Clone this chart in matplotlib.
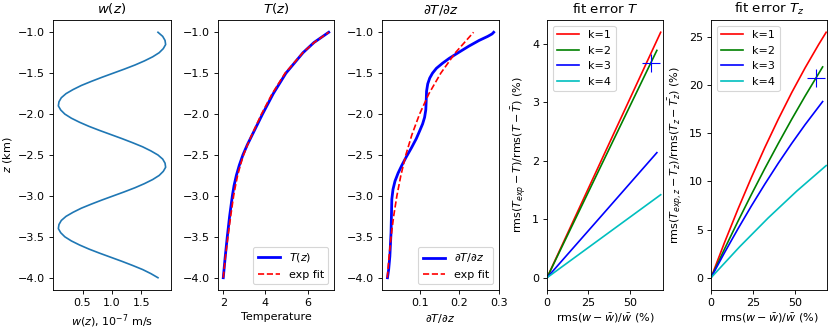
import numpy as np
import matplotlib
matplotlib.use("Agg")
import matplotlib.pyplot as plt

# depth grid for w(z), km
z_w = np.linspace(-1.0, -4.0, 61)
w_z = [1.78, 1.86, 1.90, 1.91, 1.87, 1.80, 1.69, 1.55, 1.39, 1.21,
       1.02, 0.83, 0.65, 0.48, 0.34, 0.22, 0.14, 0.10, 0.09, 0.13,
       0.20, 0.31, 0.45, 0.61, 0.79, 0.98, 1.17, 1.35, 1.52, 1.66,
       1.78, 1.86, 1.90, 1.91, 1.87, 1.80, 1.69, 1.55, 1.39, 1.21,
       1.02, 0.83, 0.65, 0.48, 0.34, 0.22, 0.14, 0.10, 0.09, 0.13,
       0.20, 0.31, 0.45, 0.61, 0.79, 0.98, 1.17, 1.35, 1.52, 1.66,
       1.78]

# temperature profile and its exp fit
z_T = [-4.0, -3.75, -3.5, -3.25, -3.0, -2.875, -2.75, -2.625, -2.5, -2.375,
       -2.25, -2.0, -1.75, -1.5, -1.25, -1.125, -1.0]
T_z = [2.0, 2.09, 2.19, 2.30, 2.43, 2.51, 2.62, 2.76, 2.93, 3.14,
       3.38, 3.86, 4.37, 4.97, 5.78, 6.30, 7.0]
T_fit = [2.0, 2.10, 2.22, 2.35, 2.49, 2.58, 2.68, 2.81, 2.96, 3.15,
         3.36, 3.81, 4.32, 4.93, 5.77, 6.31, 7.0]

# gradient profile and its exp fit
z_dT = [-4.0, -3.9, -3.74, -3.45, -3.25, -3.04, -2.92, -2.82, -2.72, -2.62,
        -2.52, -2.41, -2.30, -2.20, -2.12, -2.04, -1.95, -1.85, -1.72, -1.63,
        -1.56, -1.50, -1.44, -1.38, -1.32, -1.25, -1.17, -1.10, -1.05, -1.02,
        -1.0]
dTdz = [0.018, 0.021, 0.024, 0.027, 0.028, 0.029, 0.032, 0.037, 0.045, 0.055,
        0.066, 0.079, 0.091, 0.100, 0.107, 0.112, 0.115, 0.116, 0.117, 0.120,
        0.125, 0.132, 0.142, 0.157, 0.174, 0.197, 0.224, 0.250, 0.272, 0.283,
        0.287]
z_fit = [-4.0, -3.75, -3.5, -3.25, -3.0, -2.75, -2.5, -2.25, -2.0, -1.75, -1.5, -1.25, -1.0]
dTdz_fit = [0.0176, 0.0218, 0.0271, 0.0336, 0.0418, 0.0519, 0.0644, 0.080,
            0.0993, 0.123, 0.153, 0.190, 0.236]

# fit errors vs rms(w - wbar)/wbar
labels_k = ["k=1", "k=2", "k=3", "k=4"]
colors_k = ["r", "g", "b", "c"]
errT_x = [[0, 34.3, 68.6], [0, 33.2, 66.3], [0, 33.2, 66.3], [0, 34.3, 68.6]]
errT_y = [[0, 2.10, 4.20], [0, 1.95, 3.89], [0, 1.07, 2.14], [0, 0.71, 1.42]]
errTz_x = [[0, 8, 16, 24, 32, 40, 48, 56, 64, 68.5],
           [0, 8, 16, 24, 32, 40, 48, 56, 66.4],
           [0, 8, 16, 24, 32, 40, 48, 56, 66.4],
           [0, 17, 34, 51, 68.5]]
errTz_y = [[0, 3.64, 7.11, 10.40, 13.52, 16.46, 19.23, 21.81, 24.22, 25.5],
           [0, 2.97, 5.85, 8.64, 11.34, 13.94, 16.46, 18.88, 21.9],
           [0, 2.59, 5.07, 7.45, 9.72, 11.89, 13.95, 15.91, 18.3],
           [0, 3.21, 6.21, 9.00, 11.65]]
mark_T = (63.0, 3.68)
mark_Tz = (62.5, 20.7)

fig, ax = plt.subplots(1, 5, figsize=(830 / 80, 332 / 80), dpi=80)
lefts = [53, 218, 382, 547, 711]
widths = [118, 116, 117, 116, 116]
for a, l, wd in zip(ax, lefts, widths):
    a.set_position([l / 830, 42 / 332, wd / 830, 270 / 332])

ax[0].plot(w_z, z_w)
ax[0].set_title("$w(z)$")
ax[0].set_xlabel("$w(z)$, $10^{-7}$ m/s")
ax[0].set_ylabel("$z$ (km)")
ax[0].set_xticks([0.5, 1.0, 1.5])

ax[1].plot(T_z, z_T, "b", lw=2.5, label="$T(z)$")
ax[1].plot(T_fit, z_T, "r--", lw=1.5, label="exp fit")
ax[1].set_title("$T(z)$")
ax[1].set_xlabel("Temperature")
ax[1].legend(loc="lower right")

ax[2].plot(dTdz, z_dT, "b", lw=2.5, label=r"$\partial T/\partial z$")
ax[2].plot(dTdz_fit, z_fit, "r--", lw=1.5, label="exp fit")
ax[2].set_title(r"$\partial T/\partial z$")
ax[2].set_xlabel(r"$\partial T/\partial z$")
ax[2].legend(loc="lower right")

for i in range(4):
    ax[3].plot(errT_x[i], errT_y[i], colors_k[i], label=labels_k[i])
    ax[4].plot(errTz_x[i], errTz_y[i], colors_k[i], label=labels_k[i])
ax[3].plot(*mark_T, "+", color="b", ms=16)
ax[4].plot(*mark_Tz, "+", color="b", ms=16)

ax[3].set_title("fit error $T$")
ax[3].set_ylabel(r"rms$(T_{exp}-T)$/rms$(T-\bar{T})$ (%)")
ax[4].set_title("fit error $T_z$")
ax[4].set_ylabel(r"rms$(T_{exp,z}-T_z)$/rms$(T_z-\bar{T_z})$ (%)")
ax[3].set_xlim(0, 70)
ax[4].set_xlim(0, 69)
for a in ax[3:]:
    a.set_xlabel(r"rms$(w-\bar{w})/\bar{w}$ (%)")
    a.set_xticks([0, 25, 50])
    a.legend(loc="upper left")

fig.savefig("out.png", dpi=80)
